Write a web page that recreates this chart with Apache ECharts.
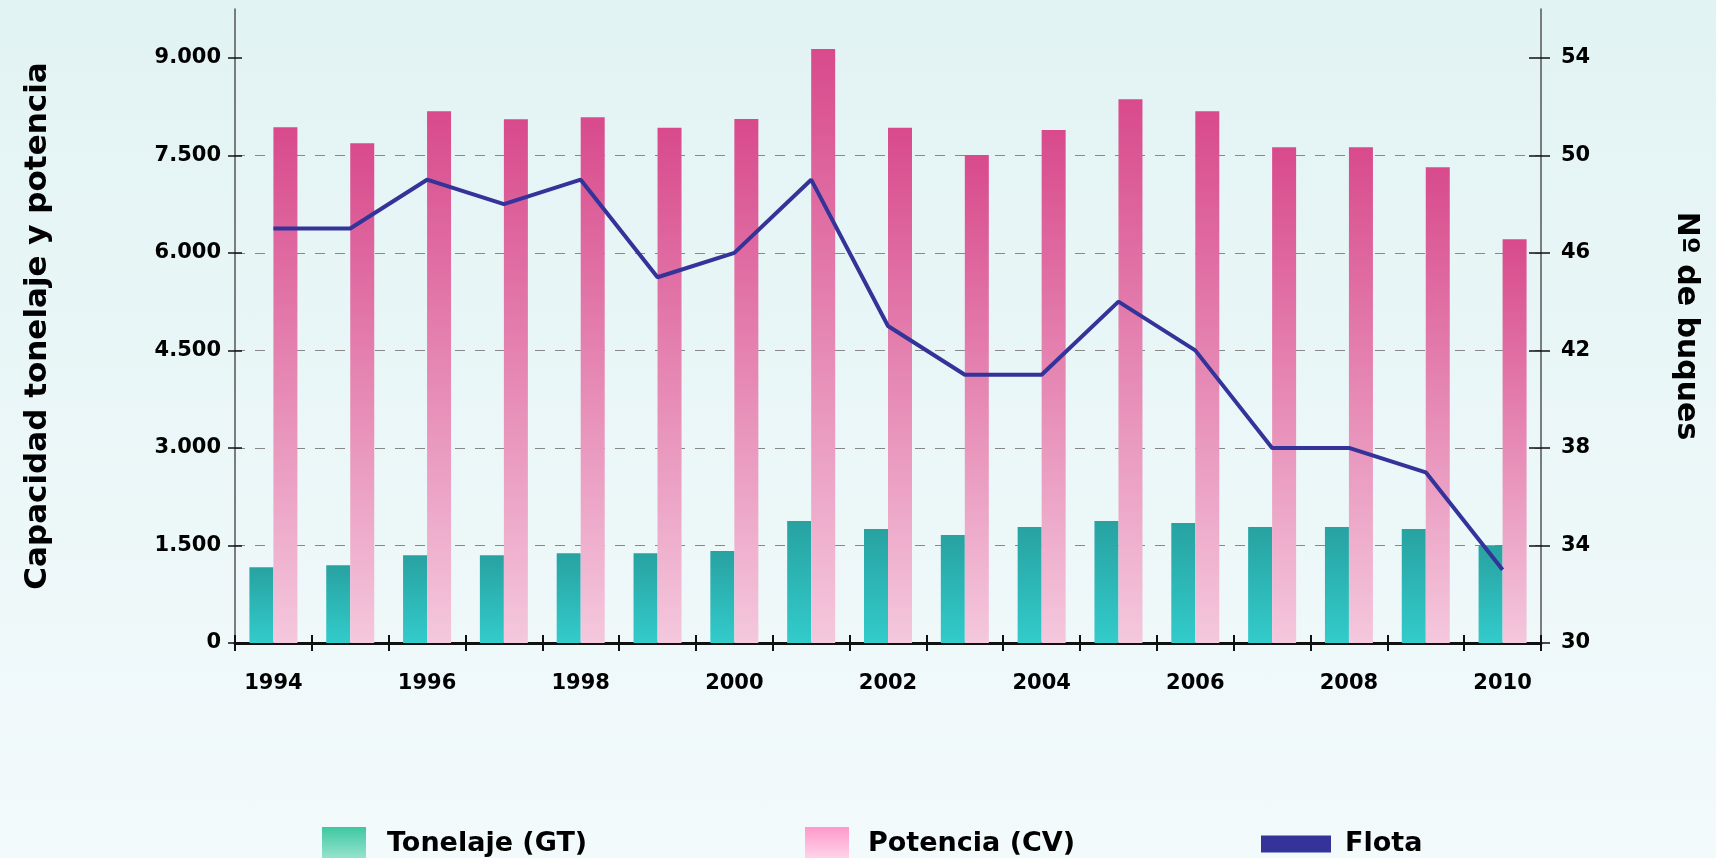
<!DOCTYPE html>
<html>
<head>
<meta charset="utf-8">
<script src="https://cdn.jsdelivr.net/npm/echarts@6/dist/echarts.min.js"></script>
<style>
  html, body { margin: 0; padding: 0; }
  #chart {
    width: 1716px; height: 858px;
    background: linear-gradient(to bottom, #e2f3f3 0%, #f3fafc 100%);
  }
</style>
</head>
<body>
<div id="chart"></div>
<script>
// datos
var years = ['1994', '1995', '1996', '1997', '1998', '1999', '2000', '2001', '2002',
  '2003', '2004', '2005', '2006', '2007', '2008', '2009', '2010'];
var tonelaje = [1166, 1197, 1351, 1351, 1382, 1382, 1413, 1875, 1752,
  1659, 1783, 1875, 1844, 1783, 1783, 1752, 1505];
var potencia = [7930, 7684, 8176, 8053, 8084, 7924, 8058, 9135, 7924,
  7503, 7890, 8361, 8176, 7623, 7623, 7315, 6209];
var flota = [47, 47, 49, 48, 49, 45, 46, 49, 43, 41, 41, 44, 42, 38, 38, 37, 33];
var leftTicks = [0, 1500, 3000, 4500, 6000, 7500, 9000];
var rightTicks = [30, 34, 38, 42, 46, 50, 54];

var chart = echarts.init(document.getElementById('chart'));
var fontFam = 'DejaVu Sans';

var tealGrad = new echarts.graphic.LinearGradient(0, 0, 0, 1, [
  { offset: 0, color: '#27a2a1' }, { offset: 1, color: '#33cbcb' }]);
var pinkGrad = new echarts.graphic.LinearGradient(0, 0, 0, 1, [
  { offset: 0, color: '#d84a8c' }, { offset: 1, color: '#f4c8dd' }]);

function fmt(v) {
  return String(v).replace(/\B(?=(\d{3})+(?!\d))/g, '.');
}

var labelStyle = { color: '#000', fontFamily: fontFam, fontWeight: 'bold', fontSize: 21 };

var option = {
  animation: false,
  grid: { left: 235, right: 175, top: 9, bottom: 215 },
  legend: [
    {
      left: 317, top: 822, itemWidth: 44, itemHeight: 34,
      data: [{ name: 'Tonelaje (GT)', icon: 'rect',
        itemStyle: { color: new echarts.graphic.LinearGradient(0, 0, 0, 1, [
          { offset: 0, color: '#3cc8a2' }, { offset: 1, color: '#9fe5d1' }]) } }],
      textStyle: { color: '#000', fontFamily: fontFam, fontWeight: 'bold', fontSize: 27, padding: [0, 0, 0, 16] }
    },
    {
      left: 800, top: 822, itemWidth: 44, itemHeight: 34,
      data: [{ name: 'Potencia (CV)', icon: 'rect',
        itemStyle: { color: new echarts.graphic.LinearGradient(0, 0, 0, 1, [
          { offset: 0, color: '#ff99cc' }, { offset: 1, color: '#ffd9ec' }]) } }],
      textStyle: { color: '#000', fontFamily: fontFam, fontWeight: 'bold', fontSize: 27, padding: [0, 0, 0, 14] }
    },
    {
      left: 1256, top: 822, itemWidth: 70, itemHeight: 17,
      data: [{ name: 'Flota', icon: 'rect', itemStyle: { color: '#333399' } }],
      textStyle: { color: '#000', fontFamily: fontFam, fontWeight: 'bold', fontSize: 27,
        lineHeight: 34, padding: [0, 0, 0, 9] }
    }
  ],
  xAxis: [
    {
      type: 'category', data: years, boundaryGap: true,
      axisLine: { lineStyle: { color: '#111', width: 3 } },
      axisTick: { show: true, interval: 0, length: 8, lineStyle: { color: '#111', width: 2 } },
      axisLabel: Object.assign({ interval: 1, margin: 30 }, labelStyle),
      splitLine: { show: false }
    },
    {
      type: 'category', data: years, boundaryGap: true, position: 'bottom',
      axisLine: { show: false },
      axisTick: { show: true, inside: true, interval: 0, length: 8, lineStyle: { color: '#111', width: 2 } },
      axisLabel: { show: false }, splitLine: { show: false }
    }
  ],
  yAxis: [
    {
      type: 'value', min: 0, max: 9750, interval: 1500,
      name: 'Capacidad tonelaje y potencia', nameLocation: 'middle', nameGap: 182, nameRotate: 90,
      nameTextStyle: { color: '#000', fontFamily: fontFam, fontWeight: 'bold', fontSize: 31 },
      axisLine: { show: true, lineStyle: { color: '#555', width: 1.5 } },
      axisTick: { show: true, length: 7, customValues: leftTicks, lineStyle: { color: '#111', width: 1.5 } },
      axisLabel: Object.assign({ margin: 14, customValues: leftTicks, formatter: fmt }, labelStyle),
      splitLine: { show: true, showMaxLine: false, showMinLine: false,
        lineStyle: { color: '#888', type: [10, 10], width: 1 } }
    },
    {
      type: 'value', min: 30, max: 56, interval: 4, position: 'right',
      name: 'Nº de buques', nameLocation: 'middle', nameGap: 130, nameRotate: -90,
      nameTextStyle: { color: '#000', fontFamily: fontFam, fontWeight: 'bold', fontSize: 30 },
      axisLine: { show: true, lineStyle: { color: '#555', width: 1.5 } },
      axisTick: { show: true, length: 9, customValues: rightTicks, lineStyle: { color: '#111', width: 1.5 } },
      axisLabel: Object.assign({ margin: 20, customValues: rightTicks }, labelStyle),
      splitLine: { show: false }
    },
    {
      type: 'value', min: 0, max: 9750, interval: 1500, position: 'left',
      axisLine: { show: false },
      axisTick: { show: true, inside: true, length: 7, customValues: leftTicks, lineStyle: { color: '#111', width: 1.5 } },
      axisLabel: { show: false }, splitLine: { show: false }
    },
    {
      type: 'value', min: 30, max: 56, interval: 4, position: 'right',
      axisLine: { show: false },
      axisTick: { show: true, inside: true, length: 12, customValues: rightTicks, lineStyle: { color: '#111', width: 1.5 } },
      axisLabel: { show: false }, splitLine: { show: false }
    }
  ],
  series: [
    {
      name: 'Tonelaje (GT)', type: 'bar', data: tonelaje, barWidth: 24, barGap: '0%',
      itemStyle: { color: tealGrad }
    },
    {
      name: 'Potencia (CV)', type: 'bar', data: potencia, barWidth: 24, barGap: '0%',
      itemStyle: { color: pinkGrad }
    },
    {
      name: 'Flota', type: 'line', yAxisIndex: 1, data: flota, showSymbol: false, symbol: 'none',
      lineStyle: { color: '#333399', width: 4 }, itemStyle: { color: '#333399' }, z: 5
    }
  ]
};

chart.setOption(option);
</script>
</body>
</html>
